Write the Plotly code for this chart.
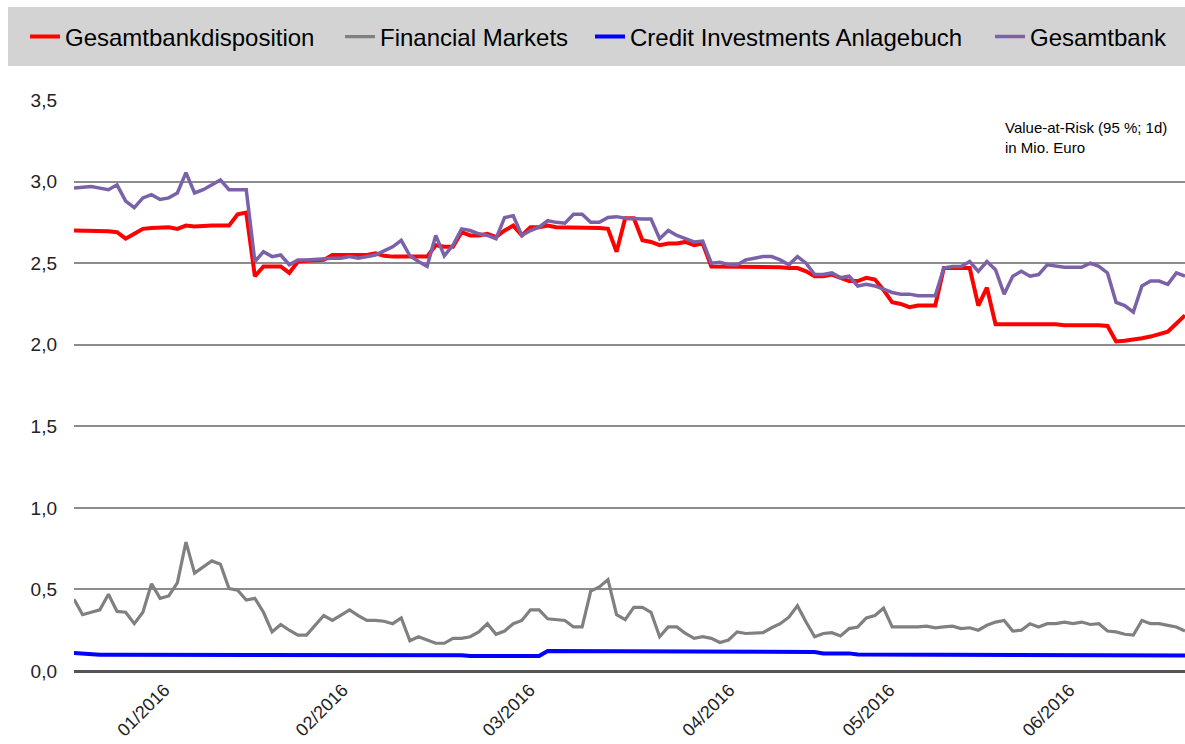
import plotly.graph_objects as go

# trading-day index (categories)
days = list(range(130))

gesamtbankdisposition = [
    2.70, 2.70, 2.70, 2.695, 2.695, 2.69, 2.65, 2.68, 2.71, 2.715,
    2.72, 2.72, 2.71, 2.73, 2.725, 2.73, 2.73, 2.73, 2.73, 2.80,
    2.81, 2.42, 2.48, 2.48, 2.48, 2.44, 2.51, 2.515, 2.52, 2.52,
    2.55, 2.55, 2.55, 2.55, 2.55, 2.56, 2.545, 2.54, 2.54, 2.54,
    2.54, 2.54, 2.61, 2.60, 2.60, 2.69, 2.67, 2.67, 2.68, 2.66,
    2.70, 2.73, 2.67, 2.72, 2.72, 2.73, 2.72, 2.72, 2.72, 2.72,
    2.72, 2.715, 2.71, 2.57, 2.775, 2.775, 2.64, 2.63, 2.61, 2.62,
    2.62, 2.63, 2.61, 2.62, 2.48, 2.48, 2.475, 2.475, 2.475, 2.475,
    2.48, 2.48, 2.475, 2.47, 2.47, 2.45, 2.42, 2.42, 2.43, 2.41,
    2.39, 2.39, 2.41, 2.40, 2.335, 2.26, 2.25, 2.23, 2.24, 2.24,
    2.24, 2.47, 2.47, 2.47, 2.47, 2.24, 2.35, 2.125, 2.125, 2.125,
    2.13, 2.13, 2.13, 2.13, 2.125, 2.12, 2.12, 2.125, 2.125, 2.12,
    2.115, 2.02, 2.025, 2.03, 2.04, 2.05, 2.065, 2.08, 2.13, 2.18,
]

financial_markets = [
    0.44, 0.345, 0.36, 0.375, 0.47, 0.365, 0.36, 0.29, 0.36, 0.535,
    0.445, 0.46, 0.54, 0.79, 0.60, 0.635, 0.675, 0.655, 0.505, 0.495,
    0.435, 0.445, 0.36, 0.24, 0.285, 0.25, 0.22, 0.22, 0.28, 0.34,
    0.31, 0.345, 0.375, 0.34, 0.31, 0.31, 0.305, 0.29, 0.325, 0.185,
    0.21, 0.19, 0.17, 0.17, 0.20, 0.20, 0.21, 0.24, 0.29, 0.225,
    0.245, 0.29, 0.31, 0.375, 0.375, 0.32, 0.315, 0.31, 0.27, 0.27,
    0.49, 0.515, 0.56, 0.345, 0.315, 0.39, 0.39, 0.36, 0.21, 0.27,
    0.27, 0.23, 0.20, 0.21, 0.20, 0.175, 0.19, 0.24, 0.23, 0.232,
    0.235, 0.265, 0.29, 0.33, 0.40, 0.30, 0.21, 0.23, 0.235, 0.215,
    0.26, 0.27, 0.325, 0.34, 0.385, 0.27, 0.27, 0.27, 0.27, 0.275,
    0.265, 0.27, 0.275, 0.26, 0.265, 0.25, 0.28, 0.30, 0.31, 0.245,
    0.25, 0.29, 0.27, 0.29, 0.29, 0.30, 0.29, 0.30, 0.285, 0.29,
    0.245, 0.24, 0.225, 0.22, 0.31, 0.29, 0.29, 0.28, 0.27, 0.245,
]

credit_investments = [
    0.11, 0.105, 0.10, 0.10, 0.10, 0.10, 0.10, 0.10, 0.10, 0.10,
    0.10, 0.10, 0.10, 0.10, 0.10, 0.10, 0.10, 0.10, 0.10, 0.10,
    0.10, 0.097, 0.097, 0.097, 0.097, 0.097, 0.097, 0.097, 0.097, 0.097,
    0.097, 0.097, 0.097, 0.097, 0.097, 0.097, 0.097, 0.097, 0.097, 0.097,
    0.097, 0.097, 0.097, 0.097, 0.097, 0.097, 0.092, 0.092, 0.092, 0.092,
    0.092, 0.092, 0.092, 0.092, 0.092, 0.123, 0.123, 0.123, 0.123, 0.123,
    0.123, 0.123, 0.123, 0.123, 0.123, 0.123, 0.123, 0.123, 0.123, 0.123,
    0.123, 0.117, 0.117, 0.117, 0.117, 0.117, 0.117, 0.117, 0.117, 0.117,
    0.117, 0.117, 0.117, 0.117, 0.117, 0.117, 0.117, 0.108, 0.108, 0.108,
    0.108, 0.101, 0.101, 0.101, 0.101, 0.101, 0.101, 0.101, 0.101, 0.101,
    0.101, 0.101, 0.101, 0.101, 0.101, 0.101, 0.095, 0.095, 0.095, 0.095,
    0.095, 0.095, 0.095, 0.095, 0.095, 0.095, 0.095, 0.095, 0.095, 0.095,
    0.095, 0.095, 0.095, 0.095, 0.095, 0.095, 0.095, 0.095, 0.095, 0.095,
]

gesamtbank = [
    2.96, 2.965, 2.97, 2.96, 2.95, 2.98, 2.88, 2.84, 2.90, 2.92,
    2.89, 2.90, 2.93, 3.055, 2.93, 2.95, 2.98, 3.01, 2.95, 2.95,
    2.95, 2.51, 2.57, 2.54, 2.55, 2.49, 2.52, 2.52, 2.525, 2.53,
    2.53, 2.53, 2.54, 2.53, 2.54, 2.55, 2.575, 2.60, 2.64, 2.545,
    2.51, 2.48, 2.67, 2.545, 2.61, 2.71, 2.70, 2.68, 2.67, 2.65,
    2.78, 2.79, 2.67, 2.70, 2.72, 2.76, 2.75, 2.745, 2.80, 2.80,
    2.75, 2.75, 2.78, 2.785, 2.775, 2.77, 2.77, 2.77, 2.65, 2.70,
    2.67, 2.65, 2.63, 2.635, 2.50, 2.505, 2.49, 2.49, 2.52, 2.53,
    2.54, 2.54, 2.52, 2.49, 2.54, 2.50, 2.43, 2.43, 2.44, 2.41,
    2.42, 2.36, 2.37, 2.36, 2.34, 2.32, 2.31, 2.31, 2.30, 2.30,
    2.30, 2.47, 2.48, 2.48, 2.51, 2.45, 2.51, 2.46, 2.31, 2.42,
    2.45, 2.42, 2.43, 2.49, 2.48, 2.475, 2.475, 2.475, 2.50, 2.48,
    2.44, 2.26, 2.24, 2.20, 2.36, 2.39, 2.39, 2.37, 2.44, 2.42,
]

month_ticks = [10.5, 31.2, 52.9, 76.1, 94.7, 115.6]
month_labels = ["01/2016", "02/2016", "03/2016", "04/2016", "05/2016", "06/2016"]

y_ticks = [0, 0.5, 1.0, 1.5, 2.0, 2.5, 3.0, 3.5]

FONT = "Liberation Sans, Arial, sans-serif"

series = [
    ("Gesamtbankdisposition", gesamtbankdisposition, "#ff0000", 4.0, "legend"),
    ("Financial Markets", financial_markets, "#808080", 3.2, "legend2"),
    ("Credit Investments Anlagebuch", credit_investments, "#0000ff", 4.0, "legend3"),
    ("Gesamtbank", gesamtbank, "#7b62a8", 3.5, "legend4"),
]

fig = go.Figure()
for name, vals, color, width, leg in series:
    fig.add_trace(go.Scatter(
        x=days, y=vals, name=name, mode="lines",
        line=dict(color=color, width=width),
        legend=leg,
    ))

# plot area: x 74..1185, y 100..671  (width 1111, height 571)
def px_x(p):
    return (p - 74) / 1111.0

def px_y(p):
    return (671 - p) / 571.0

legend_common = dict(
    orientation="h", xanchor="left", yanchor="middle",
    bgcolor="rgba(0,0,0,0)", borderwidth=0,
    font=dict(family=FONT, size=24, color="#000000"),
)
legend_starts = [25, 340, 590, 990]
legends = {}
for key, xs in zip(["legend", "legend2", "legend3", "legend4"], legend_starts):
    d = dict(legend_common)
    d.update(x=px_x(xs), y=px_y(37))
    legends[key] = d

fig.update_layout(
    width=1185, height=744,
    margin=dict(l=74, r=0, t=100, b=73),
    paper_bgcolor="white", plot_bgcolor="white",
    separators=",.",
    font=dict(family=FONT, color="#222222"),
    showlegend=True,
    **legends,
    xaxis=dict(
        range=[0, 129], showgrid=False, zeroline=False,
        tickmode="array", tickvals=month_ticks, ticktext=month_labels,
        tickangle=-45, ticks="", showline=False, ticklabelstandoff=4,
        tickfont=dict(family=FONT, size=18, color="#222222"),
    ),
    yaxis=dict(
        range=[0, 3.5], tickmode="array", tickvals=y_ticks,
        tickformat=".1f", showgrid=True, gridcolor="#8c8c8c", gridwidth=1.5,
        zeroline=True, zerolinecolor="#555555", zerolinewidth=3,
        showline=False, ticks="", ticklabelstandoff=16,
        tickfont=dict(family=FONT, size=19, color="#222222"),
    ),
    shapes=[dict(
        type="rect", xref="paper", yref="paper",
        x0=px_x(8), x1=1.0, y0=px_y(66), y1=px_y(7),
        fillcolor="#d3d3d3", line=dict(width=0), layer="below",
    )],
    annotations=[dict(
        xref="paper", yref="paper", x=px_x(1003), y=px_y(117),
        xanchor="left", yanchor="top", align="left", showarrow=False,
        text="Value-at-Risk (95 %; 1d)<br>in Mio. Euro",
        font=dict(family=FONT, size=15, color="#000000"),
    )],
)

fig.write_html("out.html")
